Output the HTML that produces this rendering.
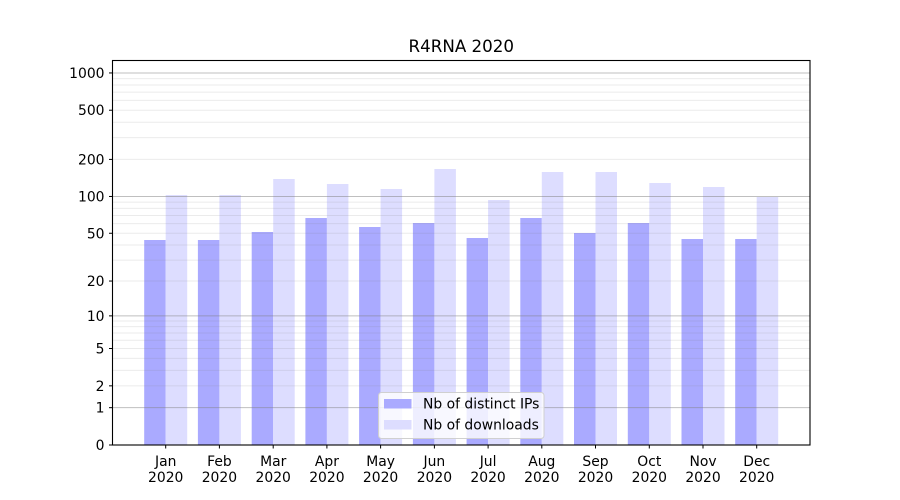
<!DOCTYPE html>
<html>
<head>
<meta charset="utf-8">
<style>
html,body{margin:0;padding:0;background:#fff;}
svg{display:block;}
text{font-family:"DejaVu Sans","Liberation Sans",sans-serif;fill:#000;}
</style>
</head>
<body>
<svg width="900" height="500" viewBox="0 0 900 500" xmlns="http://www.w3.org/2000/svg">
<rect x="0" y="0" width="900" height="500" fill="#fff"/>

<!-- bars: IPs (dark) -->
<g fill="#aaaaff">
<rect x="144.2" y="240" width="21.5" height="205"/>
<rect x="197.9" y="240" width="21.5" height="205"/>
<rect x="251.7" y="232" width="21.5" height="213"/>
<rect x="305.4" y="218" width="21.5" height="227"/>
<rect x="359.1" y="227" width="21.5" height="218"/>
<rect x="412.9" y="223" width="21.5" height="222"/>
<rect x="466.6" y="238" width="21.5" height="207"/>
<rect x="520.3" y="218" width="21.5" height="227"/>
<rect x="574.0" y="233" width="21.5" height="212"/>
<rect x="627.8" y="223" width="21.5" height="222"/>
<rect x="681.5" y="239" width="21.5" height="206"/>
<rect x="735.2" y="239" width="21.5" height="206"/>
</g>
<!-- bars: downloads (light) -->
<g fill="#ddddff">
<rect x="165.7" y="195" width="21.5" height="250"/>
<rect x="219.4" y="195" width="21.5" height="250"/>
<rect x="273.2" y="179" width="21.5" height="266"/>
<rect x="326.9" y="184" width="21.5" height="261"/>
<rect x="380.6" y="189" width="21.5" height="256"/>
<rect x="434.4" y="169" width="21.5" height="276"/>
<rect x="488.1" y="200" width="21.5" height="245"/>
<rect x="541.8" y="172" width="21.5" height="273"/>
<rect x="595.5" y="172" width="21.5" height="273"/>
<rect x="649.3" y="183" width="21.5" height="262"/>
<rect x="703.0" y="187" width="21.5" height="258"/>
<rect x="756.7" y="197" width="21.5" height="248"/>
</g>

<!-- minor grid -->
<g stroke="rgba(128,128,128,0.16)" stroke-width="1">
<line x1="112.5" x2="810" y1="385.84" y2="385.84"/>
<line x1="112.5" x2="810" y1="370.34" y2="370.34"/>
<line x1="112.5" x2="810" y1="358.33" y2="358.33"/>
<line x1="112.5" x2="810" y1="348.51" y2="348.51"/>
<line x1="112.5" x2="810" y1="340.21" y2="340.21"/>
<line x1="112.5" x2="810" y1="333.02" y2="333.02"/>
<line x1="112.5" x2="810" y1="326.67" y2="326.67"/>
<line x1="112.5" x2="810" y1="321.0" y2="321.0"/>
<line x1="112.5" x2="810" y1="281.04" y2="281.04"/>
<line x1="112.5" x2="810" y1="260.07" y2="260.07"/>
<line x1="112.5" x2="810" y1="245.02" y2="245.02"/>
<line x1="112.5" x2="810" y1="233.26" y2="233.26"/>
<line x1="112.5" x2="810" y1="223.62" y2="223.62"/>
<line x1="112.5" x2="810" y1="215.44" y2="215.44"/>
<line x1="112.5" x2="810" y1="208.35" y2="208.35"/>
<line x1="112.5" x2="810" y1="202.08" y2="202.08"/>
<line x1="112.5" x2="810" y1="159.40" y2="159.40"/>
<line x1="112.5" x2="810" y1="137.66" y2="137.66"/>
<line x1="112.5" x2="810" y1="122.21" y2="122.21"/>
<line x1="112.5" x2="810" y1="110.22" y2="110.22"/>
<line x1="112.5" x2="810" y1="100.42" y2="100.42"/>
<line x1="112.5" x2="810" y1="92.13" y2="92.13"/>
<line x1="112.5" x2="810" y1="84.95" y2="84.95"/>
<line x1="112.5" x2="810" y1="78.61" y2="78.61"/>
</g>
<!-- major grid -->
<g stroke="rgba(128,128,128,0.5)" stroke-width="1">
<line x1="112.5" x2="810" y1="407.67" y2="407.67"/>
<line x1="112.5" x2="810" y1="315.87" y2="315.87"/>
<line x1="112.5" x2="810" y1="196.46" y2="196.46"/>
<line x1="112.5" x2="810" y1="72.95" y2="72.95"/>
</g>

<!-- axes frame -->
<rect x="112.5" y="60.5" width="697.5" height="384.5" fill="none" stroke="#000" stroke-width="1.1"/>

<!-- y ticks -->
<g stroke="#000" stroke-width="1">
<line x1="109" x2="112.5" y1="445" y2="445"/>
<line x1="109" x2="112.5" y1="407.67" y2="407.67"/>
<line x1="109" x2="112.5" y1="385.84" y2="385.84"/>
<line x1="109" x2="112.5" y1="348.51" y2="348.51"/>
<line x1="109" x2="112.5" y1="315.87" y2="315.87"/>
<line x1="109" x2="112.5" y1="281.04" y2="281.04"/>
<line x1="109" x2="112.5" y1="233.26" y2="233.26"/>
<line x1="109" x2="112.5" y1="196.46" y2="196.46"/>
<line x1="109" x2="112.5" y1="159.40" y2="159.40"/>
<line x1="109" x2="112.5" y1="110.22" y2="110.22"/>
<line x1="109" x2="112.5" y1="72.95" y2="72.95"/>
</g>
<g font-size="13.9" text-anchor="end">
<text x="104.5" y="450">0</text>
<text x="104.5" y="412.7">1</text>
<text x="104.5" y="390.8">2</text>
<text x="104.5" y="353.5">5</text>
<text x="104.5" y="320.9">10</text>
<text x="104.5" y="286">20</text>
<text x="104.5" y="238.3">50</text>
<text x="104.5" y="201.5">100</text>
<text x="104.5" y="164.4">200</text>
<text x="104.5" y="115.2">500</text>
<text x="104.5" y="78">1000</text>
</g>

<!-- x ticks -->
<g stroke="#000" stroke-width="1">
<line x1="165.7" x2="165.7" y1="445" y2="448.5"/>
<line x1="219.4" x2="219.4" y1="445" y2="448.5"/>
<line x1="273.2" x2="273.2" y1="445" y2="448.5"/>
<line x1="326.9" x2="326.9" y1="445" y2="448.5"/>
<line x1="380.6" x2="380.6" y1="445" y2="448.5"/>
<line x1="434.4" x2="434.4" y1="445" y2="448.5"/>
<line x1="488.1" x2="488.1" y1="445" y2="448.5"/>
<line x1="541.8" x2="541.8" y1="445" y2="448.5"/>
<line x1="595.5" x2="595.5" y1="445" y2="448.5"/>
<line x1="649.3" x2="649.3" y1="445" y2="448.5"/>
<line x1="703.0" x2="703.0" y1="445" y2="448.5"/>
<line x1="756.7" x2="756.7" y1="445" y2="448.5"/>
</g>
<g font-size="13.9" text-anchor="middle">
<text x="165.7" y="466">Jan</text><text x="165.7" y="482">2020</text>
<text x="219.4" y="466">Feb</text><text x="219.4" y="482">2020</text>
<text x="273.2" y="466">Mar</text><text x="273.2" y="482">2020</text>
<text x="326.9" y="466">Apr</text><text x="326.9" y="482">2020</text>
<text x="380.6" y="466">May</text><text x="380.6" y="482">2020</text>
<text x="434.4" y="466">Jun</text><text x="434.4" y="482">2020</text>
<text x="488.1" y="466">Jul</text><text x="488.1" y="482">2020</text>
<text x="541.8" y="466">Aug</text><text x="541.8" y="482">2020</text>
<text x="595.5" y="466">Sep</text><text x="595.5" y="482">2020</text>
<text x="649.3" y="466">Oct</text><text x="649.3" y="482">2020</text>
<text x="703.0" y="466">Nov</text><text x="703.0" y="482">2020</text>
<text x="756.7" y="466">Dec</text><text x="756.7" y="482">2020</text>
</g>

<!-- title -->
<text x="461.3" y="52" font-size="16.7" text-anchor="middle">R4RNA 2020</text>

<!-- legend -->
<rect x="378.5" y="392.5" width="165.5" height="46" rx="3" ry="3" fill="rgba(255,255,255,0.8)" stroke="#d0d0d0" stroke-width="1"/>
<rect x="384" y="399" width="27.5" height="9.5" fill="#aaaaff"/>
<rect x="384" y="420" width="27.5" height="9.5" fill="#ddddff"/>
<g font-size="13.9">
<text x="423" y="408.5">Nb of distinct IPs</text>
<text x="423" y="429.5">Nb of downloads</text>
</g>
</svg>
</body>
</html>
